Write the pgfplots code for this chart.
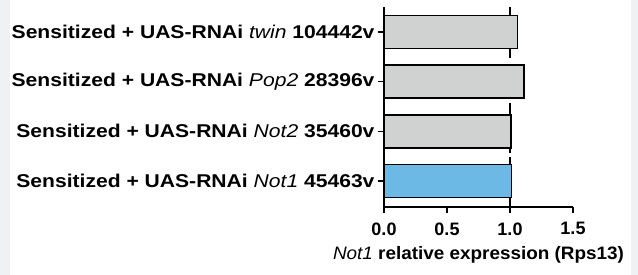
\documentclass[border=0pt]{standalone}
\usepackage{fontspec}
\setmainfont{Liberation Sans}
\newfontfamily\ylabfont[FakeStretch=1.14]{Liberation Sans}
\newfontfamily\xlabfont[FakeStretch=1.05]{Liberation Sans}
\usepackage{pgfplots}
\pgfplotsset{compat=1.18}
\definecolor{strip}{HTML}{F0F1F3}
\definecolor{bargray}{HTML}{D0D1D1}
\definecolor{barblue}{HTML}{6DB9E5}
\begin{document}
\begin{tikzpicture}
\path[use as bounding box] (0,0) rectangle (638bp,275bp);
\fill[white] (0,0) rectangle (638bp,275bp);
\fill[strip] (0,0) rectangle (10bp,275bp);
\fill[strip] (631bp,0) rectangle (638bp,275bp);
\begin{axis}[
  at={(384bp,68bp)}, anchor=south west,
  scale only axis, width=189bp, height=200bp,
  xmin=0, xmax=1.5, ymin=0.48, ymax=4.5,
  axis lines*=left,
  axis line style={line width=1.3bp, black},
  every tick/.style={black, line width=1.3bp},
  tick align=outside, major tick length=6bp,
  xtick={0,0.5,1,1.5},
  xticklabels={0.0,0.5,1.0,1.5},
  ytick={1,2,3,4},
  yticklabels={
    {Sensitized + UAS-RNAi \textit{\mdseries Not1} 45463v},
    {Sensitized + UAS-RNAi \textit{\mdseries Not2} 35460v},
    {Sensitized + UAS-RNAi \textit{\mdseries Pop2} 28396v},
    {Sensitized + UAS-RNAi \textit{\mdseries twin} 104442v}},
  yticklabel style={font=\ylabfont\fontsize{18.5bp}{20bp}\selectfont\bfseries, align=right},
  xticklabel style={font=\fontsize{18bp}{20bp}\selectfont\bfseries, yshift=-6bp},
  xlabel={\textit{\mdseries Not1} relative expression (Rps13)},
  xlabel style={font=\xlabfont\fontsize{18bp}{19bp}\selectfont\bfseries,
    at={(axis description cs:0.5,0)}, anchor=base, yshift=-52bp},
  clip=false,
]
\addplot[black, line width=1.3bp] coordinates {(1,4.5) (1,3.475)};
\addplot[black, line width=1.3bp] coordinates {(1,2.57) (1,1.56)};
\addplot[black, line width=1.3bp] coordinates {(1,1.48) (1,0.48)};
\addplot[xbar, bar width=33bp, bar shift=0pt, fill=bargray, draw=black, line width=1.3bp]
  coordinates {(1.061,4) (1.11,3) (1.008,2)};
\addplot[xbar, bar width=33bp, bar shift=0pt, fill=barblue, draw=black, line width=1.3bp]
  coordinates {(1.01,1)};
\end{axis}
\end{tikzpicture}
\end{document}
